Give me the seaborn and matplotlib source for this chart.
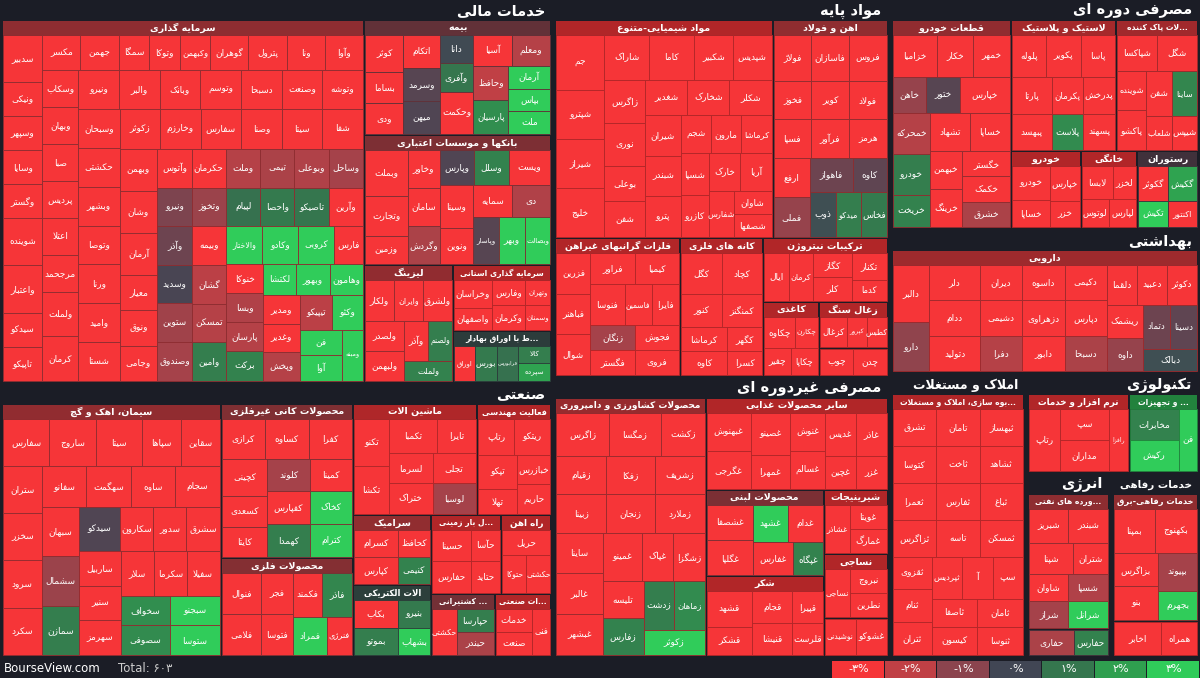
import unicodedata
import numpy as np
import matplotlib
matplotlib.use("Agg")
import matplotlib.pyplot as plt
from matplotlib.patches import Rectangle
import seaborn as sns

# ---------------- data (names, % change, relative size) ----------------
sectors = ["خدمات مالی", "صنعتی", "مواد پایه", "مصرفی غیردوره ای", "مصرفی دوره ای",
           "بهداشتی", "املاک و مستغلات", "تکنولوژی", "انرژی", "خدمات رفاهی"]
sector_size = [214, 153, 128, 95, 72, 45, 39, 17.5, 15.7, 16.6]

invest_names = "سدبیر ونیکی وسپهر وسایا وگستر شوینده واعتبار سیدکو تاپیکو مکسر جهمن سمگا وتوکا وکبهمن گوهران پترول ونا وآوا وسکاب وبهان صبا پردیس اعتلا مرجحمد ولملت کرمان ونیرو والبر وبانک وتوسم دسبحا وصنعت وتوشه وسبحان حکشتی وبشهر وتوصا ورنا وامید شستا زکوثر وخارزم سفارس وصنا سیتا شفا وبهمن وشان آرمان معیار ونوق وجامی وآتوس حکرمان وملت تیمی وبوعلی وساحل ونیرو وآذر وسدید ستوین وصندوق وتخوز لپیام واحصا تاصیکو وآرین وبیمه گشان تمسکن وامین والاختار وکادو کروبی فارس خنوکا وبسا پارسان برکت لکتشا وبهور وهامون ومدیر وغدیر وپخش تیپیکو وکثو فن آوا ومبنه مدیریت".split()
invest_chg = [-3.5, -3.4, -3.3, -3.2, -3.1, -3.2, -3.0, -3.3, -3.1, -3.4, -3.2, -3.3, -3.0, -3.1, -3.2, -3.3, -3.1, -3.2, -3.4, -3.0,
              -3.2, -3.1, -3.3, -3.0, -3.2, -3.4, -3.1, -3.3, -3.2, -3.0, -3.1, -3.2, -3.3, -3.1, -3.4, -3.2, -3.0, -3.1, -3.2, -3.3,
              -3.1, -3.0, -3.2, -3.1, -3.3, -3.2, -3.1, -3.0, -3.2, -3.1, -3.3, -3.2, -3.1, -3.0, -1.8, -1.6, -1.7, -1.5, -0.8, -0.6,
              -0.1, -1.4, -1.5, -1.3, 0.9, 1.1, 1.0, -3.2, -3.1, -1.9, -1.8, 1.2, 3.2, 3.1, 3.3, -3.1, -3.2, -1.7, -1.8, 1.3, 3.3,
              3.1, 3.2, -3.2, -3.1, -1.8, -1.9, 3.5, 3.2, 3.1, 3.0]
invest_w = [7, 5, 5, 5, 5, 7, 7, 5, 5, 5, 5, 4, 4, 4, 5, 5, 5, 5, 5, 5, 5, 5, 5, 5, 6, 6, 6, 6, 6, 6, 6, 6, 6, 6, 6, 6, 6, 6, 6,
            6, 6, 6, 6, 6, 6, 6, 6, 6, 6, 5, 5, 5, 5, 5, 5, 5, 5, 5, 5, 5, 5, 5, 5, 5, 5, 5, 5, 5, 5, 5, 5, 5, 5, 5, 5, 4, 4, 4,
            4, 4, 4, 4, 4, 4, 4, 4, 4, 4, 4, 4, 4]

bime_names = "کوثر بساما ودی اتکام وسرمد میهن دانا وآفری وحکمت آسیا ومعلم وحافظ پارسیان آرمان بپاس ملت".split()
bime_chg = [-3.2, -3.3, -3.1, -3.2, -0.3, -0.2, 0.1, 1.0, -3.1, -3.3, -1.8, -2.0, 1.6, 3.2, 3.1, 3.3]
bime_w = [6, 5, 5, 5, 5, 5, 4, 4, 6, 5, 5, 5, 5, 4, 4, 4]

bank_names = "وبملت وتجارت وزمین وخاور سامان وگردش وپارس وسلل ویست وسینا ونوین سمایه دی وپاسار وبهر وبصالت".split()
bank_chg = [-3.2, -3.1, -3.0, -3.1, -3.2, -1.6, -0.2, 1.3, -3.3, -3.1, -3.0, -3.2, -1.7, -0.3, 3.1, 3.2]
bank_w = [8, 7, 5, 5, 5, 5, 5, 5, 6, 6, 5, 5, 5, 5, 5, 5]

leasing_names = "ولکار وایران ولشرق ولصدر ولبهمن وآذر ولصنم ولملت".split()
leasing_chg = [-3.1, -3.2, -3.0, -3.3, -3.2, -3.1, 1.2, 1.3]
leasing_w = [5, 5, 5, 5, 5, 4, 4, 4]

bourse_names = "اوراق بورس فرابورس کالا سپرده".split()
bourse_chg = [-3.2, 1.1, 0.9, 1.2, 2.1]
bourse_w = [4, 4, 4, 3, 3]

ostani_names = "وخراسان واصفهان وفارس وکرمان وتهران وسمنان".split()
ostani_chg = [-3.2, -3.1, -3.3, -3.0, -3.2, -3.1]
ostani_w = [5, 4, 4, 4, 3, 3]

chem_names = "جم شپترو شیراز خلیج شاراک کاما شکبیر شپدیس زاگرس نوری بوعلی شفن شغدیر شخارک شکلر شیران شبندر پترو شجم مارون کرماشا شسپا کازرو خارک آریا شفارس شاوان شصفها".split()
chem_chg = [-3.2, -3.1, -3.3, -3.0, -3.2, -3.1, -3.4, -3.0, -3.2, -3.1, -3.3, -3.2, -3.1, -3.0, -3.2, -3.3, -3.1, -3.2, -3.0,
            -3.1, -3.3, -3.2, -3.1, -3.0, -3.2, -3.1, -3.3, -3.2]
chem_w = [9, 8, 8, 8, 7, 7, 6, 6, 6, 6, 5, 5, 5, 5, 5, 5, 5, 5, 4, 4, 4, 4, 4, 4, 4, 4, 3, 3]

steel_names = "فولاژ فاسازان فروس فخوز کویر فولاد فسپا فرآور هرمز ارفع فملی فاهواز کاوه ذوب میدکو فخاس".split()
steel_chg = [-3.2, -3.1, -3.3, -3.0, -3.2, -3.1, -3.3, -3.2, -3.1, -3.0, -1.2, -0.6, -0.4, 0.2, 1.2, 1.1]
steel_w = [6, 6, 6, 5, 5, 5, 5, 5, 5, 5, 5, 5, 4, 4, 4, 4]

metal_names = "فزرین فباهنر شوال فراور کیمیا فنوسا فاسمین فایرا زنگان فگستر فجوش فروی".split()
metal_chg = [-3.1, -3.3, -3.0, -3.2, -3.1, -3.2, -3.0, -3.3, -1.5, -3.1, -3.2, -3.0]
metal_w = [5, 5, 5, 5, 5, 5, 4, 4, 4, 4, 4, 4]

mine_names = "کگل کچاد کنور کمنگنز کرماشا کاوه کگهر کسرا".split()
mine_chg = [-3.2, -3.1, -3.3, -3.0, -3.2, -3.1, -3.0, -3.2]
mine_w = [6, 6, 5, 5, 4, 4, 3, 3]

nitro_names = "ایال کرمان کگاز کلر تکنار کدما".split()
nitro_chg = [-3.1, -3.2, -3.3, -3.0, -3.1, -3.2]
nitro_w = [5, 5, 4, 4, 4, 3]

paper_names = "چکاوه چکارن چفیر چکاپا".split()
paper_chg = [-3.2, -3.1, -3.3, -3.0]
paper_w = [4, 3, 3, 3]

coal_names = "کزغال کپرور کطبس".split()
coal_chg = [-3.1, -3.2, -3.3]
coal_w = [4, 3, 3]

wood_names = "چوب چدن".split()
wood_chg = [-3.2, -3.0]
wood_w = [3, 3]

parts_names = "خزامیا خکار خمهر خاهن ختور خپارس خمحرکه خودرو خریخت تشهاد خساپا خبهمن خرینگ خگستر خکمک خشرق".split()
parts_chg = [-3.2, -3.1, -3.3, -1.2, -0.3, -3.0, -1.8, 1.2, 1.3, -3.2, -3.1, -3.3, -3.0, -3.2, -3.1, -1.6]
parts_w = [6, 5, 5, 4, 4, 6, 5, 5, 4, 5, 5, 4, 4, 4, 4, 4]

plastic_names = "پلوله پکویر پاسا پارتا پبهسد پکرمان پدرخش پلاست پسهند".split()
plastic_chg = [-3.2, -3.1, -3.3, -3.0, -3.2, -3.1, -3.0, 1.5, -3.2]
plastic_w = [5, 5, 5, 5, 5, 4, 4, 4, 4]

clean_names = "شپاکسا شگل شوینده پاکشو شفن ساینا شلعاب شیپس".split()
clean_chg = [-3.1, -3.2, -3.3, -3.0, -3.2, 1.4, -3.1, -3.2]
clean_w = [5, 5, 4, 4, 4, 4, 3, 3]

car_names = "خودرو خساپا خپارس خزر".split()
car_chg = [-3.2, -3.1, -3.0, -3.3]
car_w = [5, 4, 4, 3]

home_names = "لابسا لخزر لوتوس لپارس".split()
home_chg = [-3.2, -3.1, -3.0, -3.2]
home_w = [4, 3, 3, 3]

rest_names = "گکوثر گکیش تکیش اکنتور".split()
rest_chg = [-3.1, 2.1, 3.1, -3.2]
rest_w = [4, 4, 3, 3]

drug_names = "دالبر دارو دلر ددام دتولید ديران دشیمی دفرا داسوه دزهراوی دابور دکیمی دپارس دسبحا دلقما دعبید دکوثر ریشمک داوه دتماد دسینا دبالک".split()
drug_chg = [-3.2, -1.1, -3.1, -3.3, -3.0, -3.2, -3.1, -1.8, -3.3, -3.2, -3.0, -3.1, -3.2, -1.6, -3.1, -3.2, -3.0, -3.3,
            -1.2, -0.6, -0.4, 0.2]
drug_w = [7, 6, 6, 6, 6, 5, 5, 5, 5, 5, 5, 5, 5, 5, 4, 4, 4, 4, 4, 4, 4, 4]

cement_names = "سفارس ساروج سیتا سپاها سقاین ستران سخزر سرود سکرد سفانو سهگمت ساوه سجام سبهان سشمال سمازن سیدکو سکارون سدور سشرق ساربیل سنیر سهرمز سلار سکرما سفیلا سخواف سصوفی سبجنو ستوسا".split()
cement_chg = [-3.2, -3.1, -3.3, -3.0, -3.2, -3.1, -3.3, -3.2, -3.1, -3.0, -3.2, -3.1, -3.3, -3.2, -1.3, 1.2, -0.2, -3.1,
              -3.0, -3.2, -3.1, -3.3, -3.2, -3.1, -3.0, -3.2, 1.6, 1.5, 3.1, 3.2]
cement_w = [6, 6, 6, 5, 5, 5, 5, 5, 5, 5, 5, 5, 5, 5, 5, 5, 5, 4, 4, 4, 4, 4, 4, 4, 4, 4, 4, 4, 4, 4]

kani_names = "کرازی کساوه کفرا کچینی کسعدی کایتا کلوند کمینا کفپارس کهمدا کخاک کترام".split()
kani_chg = [-3.2, -3.1, -3.3, -3.0, -3.2, -3.1, -1.5, -3.2, -3.1, 1.2, 3.1, 3.2]
kani_w = [5, 5, 5, 5, 4, 4, 4, 4, 4, 4, 4, 4]

felezi_names = "فنوال فلامی فجر فتوسا فکمند فاذر فمراد فنرژی".split()
felezi_chg = [-3.1, -3.2, -3.0, -3.3, -3.1, 1.4, 3.1, -3.2]
felezi_w = [5, 5, 4, 4, 4, 4, 4, 3]

ceram_names = "کسرام کپارس کحافظ کنیمی".split()
ceram_chg = [-3.2, -3.1, -3.0, 1.3]
ceram_w = [4, 4, 3, 3]

machine_names = "تکنو تکشا تکمبا تایرا لسرما ختراک تجلی لوسبا".split()
machine_chg = [-3.2, -3.1, -3.0, -3.3, -3.2, -3.1, -3.0, -1.5]
machine_w = [5, 5, 5, 4, 4, 4, 4, 4]

eng_names = "رتاپ ریتکو تپکو تهلا خبازرس حاریم".split()
eng_chg = [-3.1, -3.2, -3.0, -3.3, -3.1, -3.2]
eng_w = [4, 4, 4, 3, 3, 3]

rail_names = "حریل حتوکا حکشتی".split()
rail_chg = [-3.2, -3.1, -3.0]
rail_w = [4, 3, 3]

elec_names = "بکاب بموتو بنیرو بشهاب".split()
elec_chg = [-3.1, 1.2, 1.1, 3.1]
elec_w = [4, 4, 3, 3]

port_names = "حکشتی حپارسا حبندر".split()
port_chg = [-3.2, 1.2, -1.6]
port_w = [4, 3, 3]

haml_names = "حسینا حفارس حآسا حتاید".split()
haml_chg = [-3.1, -3.2, -3.0, -3.3]
haml_w = [4, 4, 3, 3]

khadamat_names = "خدمات صنعت فنی".split()
khadamat_chg = [-3.2, -3.1, -3.3]
khadamat_w = [3, 3, 3]

agri_names = "زاگرس زمگسا زکشت زقیام زفکا زشریف زبینا زنجان زملارد ساینا غالبر غبشهر غمینو غپاک زشگزا تلیسه زفارس زدشت زماهان زکوثر".split()
agri_chg = [-3.2, -3.1, -3.3, -3.0, -3.2, -3.1, -3.3, -3.2, -3.1, -3.0, -3.2, -3.1, -3.3, -3.2, -3.1, -3.0, 1.3, 1.2, 1.5, 3.1]
agri_w = [6, 6, 5, 5, 5, 5, 5, 5, 5, 5, 5, 5, 5, 4, 4, 4, 4, 4, 4, 4]

dairy_names = "غشصفا غگلپا غشهد غدام غفارس غپگاه".split()
dairy_chg = [-3.2, -3.1, 3.1, -3.0, -3.3, 1.3]
dairy_w = [5, 5, 4, 4, 4, 3]

food_names = "غبهنوش غگرجی غصینو غمهرا غنوش غسالم غدیس غاذر غچین غزر".split()
food_chg = [-3.1, -3.2, -3.0, -3.3, -3.1, -3.2, -3.0, -3.1, -3.2, -3.3]
food_w = [5, 5, 5, 4, 4, 4, 4, 4, 3, 3]

sugar_names = "قشهد قشکر قجام قنیشا قپیرا قلرست".split()
sugar_chg = [-3.2, -3.1, -3.3, -3.0, -3.2, -3.1]
sugar_w = [5, 4, 4, 4, 3, 3]

sweets_names = "غشاذر غویتا غمارگ".split()
sweets_chg = [-3.1, -3.2, -3.0]
sweets_w = [4, 3, 3]

textile_names = "نساجی نبروج نطرین".split()
textile_chg = [-3.2, -3.1, -3.0]
textile_w = [4, 3, 3]

drink_names = "نوشیدنی غشوکو".split()
drink_chg = [-3.2, -3.1]
drink_w = [3, 3]

real_names = "تشرق تامان ثبهساز کتوسا ثاخت ثشاهد ثعمرا ثفارس ثباغ ثزاگرس تاسه ثمسکن ثقزوی ثنام ثتران ثپردیس آ سپ ثاصفا کیسون ثامان ثنوسا ثتهران".split()
real_chg = [-3.2, -3.1, -3.3, -3.0, -3.2, -3.1, -3.3, -3.2, -3.1, -3.0, -3.2, -3.1, -3.3, -3.2, -3.1, -3.0, -3.2, -3.1,
            -3.3, -3.2, -3.1, -3.0]
real_w = [5, 5, 5, 5, 5, 5, 5, 5, 5, 5, 5, 5, 4, 4, 4, 4, 4, 4, 4, 4, 4, 4]

soft_names = "رتاپ سپ مداران رافزا".split()
soft_chg = [-3.2, -3.1, -3.0, -3.3]
soft_w = [5, 4, 4, 3]

hard_names = "مخابرات رکیش فن افزار".split()
hard_chg = [1.3, 3.1, 3.2]
hard_w = [4, 4, 3]

oil_names = "شبریز شبندر شپنا شتران شاوان شراز شسپا شرانل".split()
oil_chg = [-3.2, -3.1, -3.3, -3.0, -3.2, -1.5, -1.7, 3.1]
oil_w = [5, 5, 5, 4, 4, 4, 4, 4]

drill_names = "حفاری حفارس".split()
drill_chg = [-1.6, 1.3]
drill_w = [4, 3]

power_names = "بمپنا بکهنوج بزاگرس بنو بپیوند بجهرم".split()
power_chg = [-3.2, -3.1, -3.3, -3.0, -1.5, 3.1]
power_w = [5, 5, 4, 4, 4, 3]

tele_names = "اخابر همراه".split()
tele_chg = [-3.2, -3.1]
tele_w = [4, 3]

industries = {
    "خدمات مالی": [("سرمایه گذاری", invest_names, invest_chg, invest_w),
                   ("بیمه", bime_names, bime_chg, bime_w),
                   ("بانکها و موسسات اعتباری", bank_names, bank_chg, bank_w),
                   ("لیزینگ", leasing_names, leasing_chg, leasing_w),
                   ("سرمایه گذاری استانی", ostani_names, ostani_chg, ostani_w),
                   ("سرمایه گذاری مرتبط با اوراق بهادار", bourse_names, bourse_chg, bourse_w)],
    "مواد پایه": [("مواد شیمیایی-متنوع", chem_names, chem_chg, chem_w),
                  ("اهن و فولاد", steel_names, steel_chg, steel_w),
                  ("فلزات گرانبهای غیراهن", metal_names, metal_chg, metal_w),
                  ("کانه های فلزی", mine_names, mine_chg, mine_w),
                  ("ترکیبات نیتروژن", nitro_names, nitro_chg, nitro_w),
                  ("کاغذی", paper_names, paper_chg, paper_w),
                  ("زغال سنگ", coal_names, coal_chg, coal_w),
                  ("چوب", wood_names, wood_chg, wood_w)],
    "مصرفی دوره ای": [("قطعات خودرو", parts_names, parts_chg, parts_w),
                      ("لاستیک و پلاستیک", plastic_names, plastic_chg, plastic_w),
                      ("محصولات پاک کننده", clean_names, clean_chg, clean_w),
                      ("خودرو", car_names, car_chg, car_w),
                      ("خانگی", home_names, home_chg, home_w),
                      ("رستوران", rest_names, rest_chg, rest_w)],
    "بهداشتی": [("دارویی", drug_names, drug_chg, drug_w)],
    "صنعتی": [("سیمان، اهک و گچ", cement_names, cement_chg, cement_w),
              ("محصولات کانی غیرفلزی", kani_names, kani_chg, kani_w),
              ("محصولات فلزی", felezi_names, felezi_chg, felezi_w),
              ("ماشین الات", machine_names, machine_chg, machine_w),
              ("فعالیت مهندسی", eng_names, eng_chg, eng_w),
              ("سرامیک", ceram_names, ceram_chg, ceram_w),
              ("الات الکتریکی", elec_names, elec_chg, elec_w),
              ("حمل و نقل بار زمینی", haml_names, haml_chg, haml_w),
              ("راه اهن", rail_names, rail_chg, rail_w),
              ("بنادر و کشتیرانی", port_names, port_chg, port_w),
              ("خدمات صنعتی", khadamat_names, khadamat_chg, khadamat_w)],
    "مصرفی غیردوره ای": [("محصولات کشاورزی و دامپروری", agri_names, agri_chg, agri_w),
                         ("سایر محصولات غذایی", food_names, food_chg, food_w),
                         ("محصولات لبنی", dairy_names, dairy_chg, dairy_w),
                         ("شکر", sugar_names, sugar_chg, sugar_w),
                         ("شیرینیجات", sweets_names, sweets_chg, sweets_w),
                         ("نساجی", textile_names, textile_chg, textile_w),
                         ("نوشیدنی", drink_names, drink_chg, drink_w)],
    "املاک و مستغلات": [("انبوه سازی، املاک و مستغلات", real_names, real_chg, real_w)],
    "تکنولوژی": [("نرم افزار و خدمات", soft_names, soft_chg, soft_w),
                 ("سخت افزار و تجهیزات", hard_names, hard_chg, hard_w)],
    "انرژی": [("فراورده های نفتی", oil_names, oil_chg, oil_w),
              ("حفاری", drill_names, drill_chg, drill_w)],
    "خدمات رفاهی": [("خدمات رفاهی-برق", power_names, power_chg, power_w),
                    ("مخابرات", tele_names, tele_chg, tele_w)],
}

legend_vals = [-3, -2, -1, 0, 1, 2, 3]
legend_labels = ["-۳%", "-۲%", "-۱%", "۰%", "۱%", "۲%", "۳%"]

# ---------------- Persian shaping (no bidi lib available) ----------------
NON_LEFT = set("اآأإدذرزژوؤ")


def _form(ch, form):
    try:
        return unicodedata.lookup(unicodedata.name(ch) + " " + form + " FORM")
    except (KeyError, ValueError):
        return ch


def is_letter(c):
    return "\u0621" <= c <= "\u06d3" and not ("\u064b" <= c <= "\u065f") and not ("\u06f0" <= c <= "\u06f9")


def fa(s):
    chars = list(s)
    out = []
    i = 0
    while i < len(chars):
        c = chars[i]
        prev = chars[i - 1] if i > 0 else ""
        pj = is_letter(prev) and prev not in NON_LEFT
        if c == "ل" and i + 1 < len(chars) and chars[i + 1] == "ا":
            out.append("\ufefc" if pj else "\ufefb")
            i += 2
            continue
        if is_letter(c):
            nxt = chars[i + 1] if i + 1 < len(chars) else ""
            nj = is_letter(nxt) and c not in NON_LEFT
            form = {(True, True): "MEDIAL", (True, False): "FINAL",
                    (False, True): "INITIAL", (False, False): "ISOLATED"}[(pj, nj)]
            out.append(_form(c, form))
        else:
            out.append(c)
        i += 1
    return "".join(out[::-1])


def fit(s, width, fs_max, k=0.8):
    # shrink, then cut the text so it stays inside its box (k: px per char per pt)
    fs = min(fs_max, width / (len(s) * k + 1))
    if fs >= 5.5:
        return s, fs
    n = max(1, int(width / (5.5 * k)) - 3)
    return ("..." + s[-n:] if n < len(s) else s), 5.5


# ---------------- treemap layout ----------------
def squarify(vals, x, y, w, h):
    vals = np.asarray(vals, float)
    vals = vals * (w * h) / vals.sum()
    rects = []
    items = list(vals)

    def worst(row, side):
        s = sum(row)
        return max(max(side * side * r / (s * s), (s * s) / (side * side * r)) for r in row)

    while items:
        side = min(w, h)
        row = [items.pop(0)]
        while items and worst(row + [items[0]], side) <= worst(row, side):
            row.append(items.pop(0))
        s = sum(row)
        if w >= h:
            cw = s / h
            cy = y
            for r in row:
                rects.append((x, cy, cw, r / cw))
                cy += r / cw
            x += cw
            w -= cw
        else:
            ch = s / w
            cx = x
            for r in row:
                rects.append((cx, y, r / ch, ch))
                cx += r / ch
            y += ch
            h -= ch
    return rects


def slice_(vals, rect, vertical):
    x, y, w, h = rect
    tot = float(sum(vals))
    out = []
    for v in vals:
        if vertical:
            out.append((x, y, w, h * v / tot))
            y += h * v / tot
        else:
            out.append((x, y, w * v / tot, h))
            x += w * v / tot
    return out


S = sector_size
H = 658
cols = slice_([S[0] + S[1], S[2] + S[3], sum(S[4:])], (0, 0, 1200, H), False)
sec_rects = slice_(S[0:2], cols[0], True) + slice_(S[2:4], cols[1], True)
c3 = slice_([S[4], S[5], sum(S[6:])], cols[2], True)
sec_rects += c3[:2]
bottom = slice_([S[6], sum(S[7:])], c3[2], False)
sec_rects.append(bottom[0])
right = slice_([S[7], S[8] + S[9]], bottom[1], True)
sec_rects.append(right[0])
sec_rects += slice_(S[8:10], right[1], False)

# ---------------- drawing ----------------
sns.set_theme(style="dark")
plt.rcParams["font.family"] = ["DejaVu Sans"]
BG = "#1b1d26"
cmap = sns.blend_palette(["#f63538", "#bf4045", "#8b444e", "#414554", "#35764e", "#2f9e4f", "#30cc5a"], as_cmap=True)


def col(v):
    return cmap((np.clip(v, -3, 3) + 3) / 6)


fig = plt.figure(figsize=(12, 6.78), dpi=100, facecolor=BG)
ax = fig.add_axes([0, 0, 1, 1])
ax.set_facecolor(BG)
ax.set_xlim(0, 1200)
ax.set_ylim(678, 0)
ax.axis("off")

for sname, (sx, sy, sw, sh) in zip(sectors, sec_rects):
    sx, sy, sw, sh = sx + 2, sy + 2, sw - 4, sh - 4
    lab, fs = fit(sname, sw - 8, 10.5, 0.85)
    ax.text(sx + sw - 6, sy + 9, fa(lab), color="white", fontsize=fs, fontweight="bold",
            ha="right", va="center")
    inds = industries[sname]
    irects = squarify([sum(i[3]) for i in inds], sx, sy + 18, sw, sh - 18)
    for (iname, names, chg, wts), (ix, iy, iw, ih) in zip(inds, irects):
        ix, iy, iw, ih = ix + 1, iy + 1, iw - 2, ih - 2
        avg = np.average(chg, weights=wts)
        hc = np.array(col(avg)[:3]) * 0.72
        hh = 14 if ih > 40 else 0
        if hh:
            ax.add_patch(Rectangle((ix, iy), iw, hh, facecolor=hc, edgecolor="none"))
            lab, fs = fit(iname, iw - 6, 6.8)
            ax.text(ix + iw / 2, iy + hh / 2, fa(lab), color="white", fontsize=fs,
                    fontweight="bold", ha="center", va="center")
        trects = squarify(wts, ix, iy + hh, iw, ih - hh)
        for nm, v, (tx, ty, tw, th) in zip(names, chg, trects):
            ax.add_patch(Rectangle((tx, ty), tw, th, facecolor=col(v), edgecolor=hc, linewidth=0.6))
            fs = min(6.5, tw / (len(nm) * 0.75 + 1) * 1.1, th * 0.3)
            if fs >= 3.5:
                ax.text(tx + tw / 2, ty + th / 2, fa(nm), color="white", fontsize=fs,
                        ha="center", va="center")

# legend strip
lx0, lw = 832, 368 / len(legend_vals)
for k, (v, lab) in enumerate(zip(legend_vals, legend_labels)):
    ax.add_patch(Rectangle((lx0 + k * lw, 661), lw - 1, 17, facecolor=col(v), edgecolor="none"))
    ax.text(lx0 + k * lw + lw / 2, 669.5, lab, color="white", fontsize=8, ha="center", va="center")

ax.text(4, 669, "BourseView.com", color="white", fontsize=8.5, ha="left", va="center")
ax.text(118, 669, "Total: ۶۰۳", color="#cccccc", fontsize=8.5, ha="left", va="center")

fig.savefig("out.png", dpi=100, facecolor=BG)
